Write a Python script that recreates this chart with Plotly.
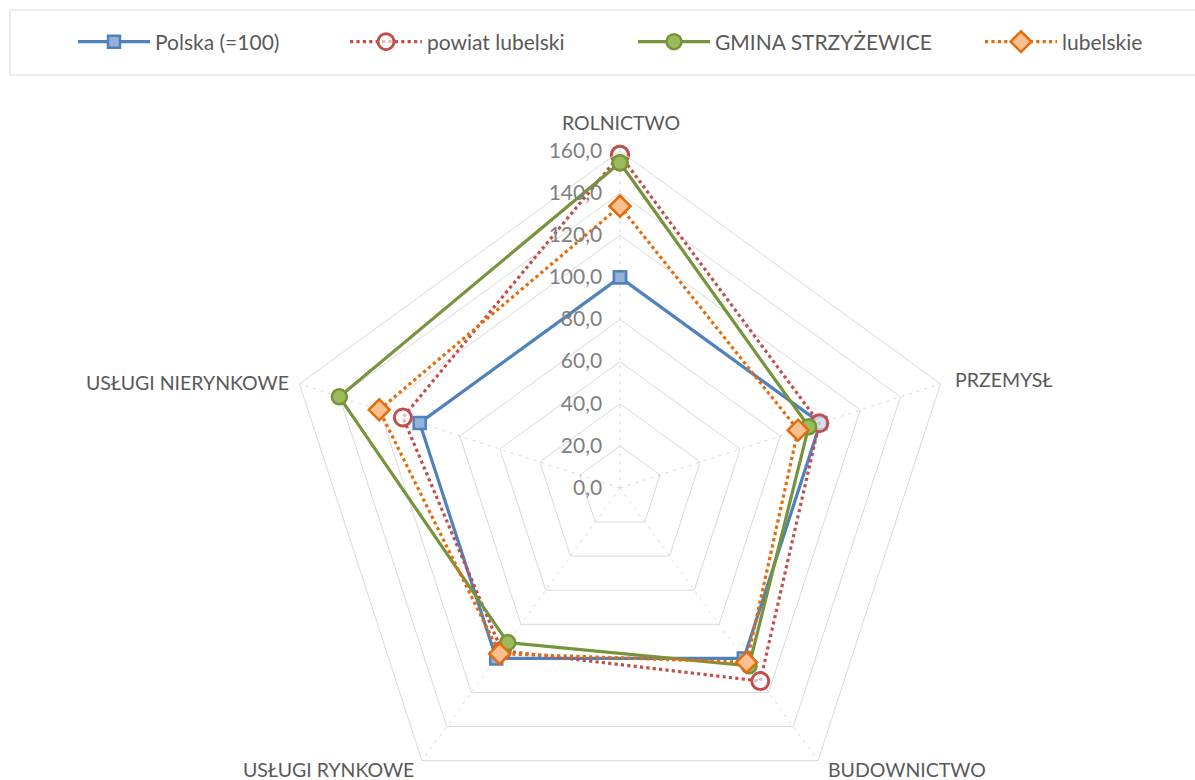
import plotly.graph_objects as go

# Sector structure indices (Polska = 100)
categories = ["ROLNICTWO", "PRZEMYSŁ", "BUDOWNICTWO", "USŁUGI RYNKOWE", "USŁUGI NIERYNKOWE"]
polska = [100.0, 100.0, 100.0, 100.0, 100.0]
powiat_lubelski = [158.2, 99.5, 113.3, 95.5, 108.4]
gmina_strzyzewice = [154.4, 94.2, 104.3, 90.7, 140.1]
lubelskie = [133.8, 88.9, 102.3, 97.2, 120.2]

radial_ticks = [0, 20, 40, 60, 80, 100, 120, 140, 160]

W, H = 1195, 840
FONT = "Lato"


def closed(vals):
    return list(vals) + [vals[0]]


cats = closed(categories)

fig = go.Figure()

fig.add_trace(go.Scatterpolar(
    r=closed(polska), theta=cats, name="Polska (=100)", mode="lines+markers",
    legend="legend", showlegend=True,
    line=dict(color="#4F81BD", width=3.2),
    marker=dict(symbol="square", size=12, color="#95B3D7",
                line=dict(color="#4F81BD", width=2.5)),
))
fig.add_trace(go.Scatterpolar(
    r=closed(powiat_lubelski), theta=cats, name="powiat lubelski", mode="lines+markers",
    legend="legend2", showlegend=True,
    line=dict(color="#C0504D", width=3.2, dash="dot"),
    marker=dict(symbol="circle", size=17, color="rgba(255,255,255,0.6)",
                line=dict(color="#C0504D", width=3)),
))
fig.add_trace(go.Scatterpolar(
    r=closed(gmina_strzyzewice), theta=cats, name="GMINA STRZYŻEWICE", mode="lines+markers",
    legend="legend3", showlegend=True,
    line=dict(color="#77933C", width=3.2),
    marker=dict(symbol="circle", size=15, color="#9BBB59",
                line=dict(color="#77933C", width=2.5)),
))
fig.add_trace(go.Scatterpolar(
    r=closed(lubelskie), theta=cats, name="lubelskie", mode="lines+markers",
    legend="legend4", showlegend=True,
    line=dict(color="#E46C0A", width=3.2, dash="dot"),
    marker=dict(symbol="diamond", size=16, color="#FAC090",
                line=dict(color="#E46C0A", width=2.5)),
))

# polar area placed so its centre sits at (620, 488) px with a 337 px radius
cx, cy, rad = 620, 488, 337

legend_font = dict(family=FONT, size=21, color="#595959")


def legend_at(x_px):
    return dict(
        orientation="h", x=x_px / W, xanchor="left",
        y=1 - 42 / H, yanchor="middle",
        font=legend_font, itemwidth=72, bgcolor="rgba(0,0,0,0)",
    )


# category labels around the pentagon: (x px, y px, anchor)
label_pos = [
    (621, 122, "center"),
    (953, 380, "left"),
    (826, 769, "left"),
    (416, 769, "right"),
    (291, 383, "right"),
]
annotations = [
    dict(text=name, xref="paper", yref="paper",
         x=px / W, y=1 - py / H, xanchor=anchor, yanchor="middle",
         showarrow=False, font=dict(family=FONT, size=19.5, color="#595959"))
    for name, (px, py, anchor) in zip(categories, label_pos)
]

fig.update_layout(
    width=W, height=H,
    showlegend=True,
    margin=dict(l=0, r=0, t=0, b=0),
    paper_bgcolor="white",
    plot_bgcolor="white",
    separators=", ",
    font=dict(family=FONT, size=18, color="#595959"),
    polar=dict(
        domain=dict(x=[(cx - rad) / W, (cx + rad) / W],
                    y=[(H - cy - rad) / H, (H - cy + rad) / H]),
        bgcolor="white",
        gridshape="linear",
        radialaxis=dict(
            range=[0, 160], tickvals=radial_ticks, tickformat=".1f",
            angle=90, side="counterclockwise", tickangle=90,
            showline=False, ticks="outside", ticklen=10,
            tickcolor="rgba(0,0,0,0)",
            gridcolor="#d9d9d9", gridwidth=1,
            tickfont=dict(family=FONT, size=21, color="#7f7f7f"),
        ),
        angularaxis=dict(
            rotation=90, direction="clockwise",
            showline=True, linecolor="#d9d9d9", linewidth=1,
            gridcolor="#d9d9d9", gridwidth=1, griddash="3px,5px",
            showticklabels=False, ticks="",
        ),
    ),
    legend=legend_at(73),
    legend2=legend_at(345),
    legend3=legend_at(633),
    legend4=legend_at(980),
    annotations=annotations,
    shapes=[dict(
        type="rect", xref="paper", yref="paper",
        x0=10 / W, x1=1.02, y0=1 - 75 / H, y1=1 - 10 / H,
        line=dict(color="#d9d9d9", width=1), fillcolor="rgba(0,0,0,0)",
    )],
)

fig.write_html(
    "out.html",
    post_script=(
        "document.documentElement.style.overflow='hidden';"
        "document.body.style.overflow='hidden';"
        "document.body.style.margin='0';"
    ),
)
